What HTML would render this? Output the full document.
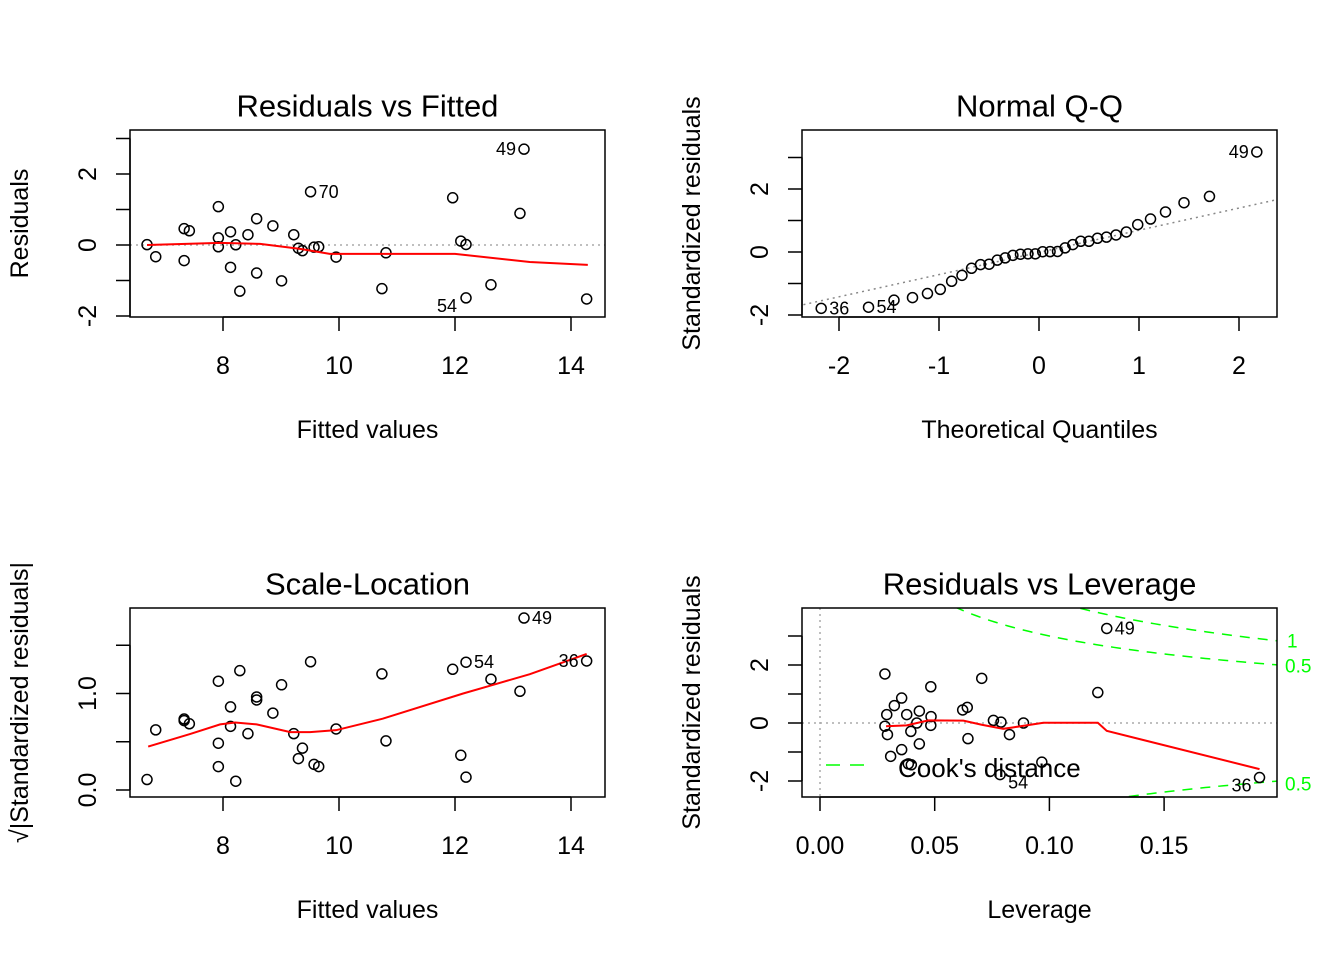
<!DOCTYPE html>
<html><head><meta charset="utf-8"><style>
html,body{margin:0;padding:0;background:#fff;width:1344px;height:960px;overflow:hidden;}
svg{display:block;font-family:"Liberation Sans",Arial,sans-serif;}
</style></head><body>
<svg id="chart" width="1344" height="960" viewBox="0 0 1344 960" xmlns="http://www.w3.org/2000/svg"></svg>
<script>
// ---- data ----
const fitted = [6.69,6.84,7.33,7.42,7.33,7.92,7.92,7.92,8.13,8.13,8.22,8.29,8.43,8.58,8.58,8.86,9.01,9.22,9.30,9.37,9.57,9.65,9.51,9.95,10.74,10.81,11.96,12.10,12.19,12.19,12.62,13.12,13.19,14.27];
const residuals = [0.01,-0.33,0.46,0.40,-0.44,1.08,0.20,-0.05,0.37,-0.63,0.007,-1.30,0.29,0.74,-0.79,0.54,-1.01,0.29,-0.09,-0.16,-0.06,-0.05,1.50,-0.34,-1.23,-0.22,1.33,0.11,0.015,-1.49,-1.12,0.89,2.70,-1.52];
const obsLabels = {22:"70",29:"54",32:"49",33:"36"};
const sigma = 0.85;
const rvfSmoothX = [6.69,7.95,8.64,9.33,9.84,11.05,12.0,13.29,14.29];
const rvfSmoothY = [0.0,0.06,0.03,-0.11,-0.25,-0.25,-0.25,-0.48,-0.56];
const slSmoothX = [6.71,7.43,7.95,8.21,8.58,9.16,9.50,9.95,10.76,12.14,12.60,13.29,14.27];
const slSmoothY = [0.45,0.58,0.68,0.70,0.68,0.60,0.60,0.62,0.74,1.00,1.08,1.20,1.41];
const leverage = [0.0283,0.0483,0.0705,0.0356,0.0324,0.0291,0.0378,0.0433,0.0484,0.0422,0.0483,0.0283,0.0294,0.0396,0.0622,0.0642,0.0756,0.0789,0.0887,0.0826,0.0645,0.0433,0.0356,0.0308,0.0385,0.0398,0.0785,0.0967,0.1211,0.125,0.1916];
const levStdRes = [1.69,1.25,1.54,0.86,0.60,0.29,0.29,0.41,0.22,0.0,-0.08,-0.11,-0.40,-0.29,0.45,0.54,0.09,0.03,0.0,-0.40,-0.54,-0.72,-0.92,-1.15,-1.41,-1.44,-1.78,-1.35,1.05,3.26,-1.88];
const levLabels = {26:"54",29:"49",30:"36"};
const levSmoothX = [0.0288,0.0378,0.0472,0.0625,0.0705,0.0799,0.0843,0.0974,0.1211,0.125,0.1916];
const levSmoothY = [-0.11,-0.08,0.09,0.08,-0.06,-0.20,-0.15,0.01,0.01,-0.27,-1.59];
const cookLevels = [0.5,1];
const nParams = 2;

// ---- helpers ----
const svg = document.getElementById('chart');
const NS = 'http://www.w3.org/2000/svg';
function mk(tag, attrs, parent){const e=document.createElementNS(NS,tag);for(const k in attrs)e.setAttribute(k,attrs[k]);(parent||svg).appendChild(e);return e;}
function txt(x,y,s,size,opts){opts=opts||{};const t=mk('text',{x:x,y:y,'font-size':size,fill:opts.fill||'#000','text-anchor':opts.anchor||'middle','dominant-baseline':'central'},opts.parent);if(opts.rot)t.setAttribute('transform','rotate(-90 '+x+' '+y+')');t.textContent=s;return t;}
function lin(d0,d1,p0,p1){return v=>p0+(v-d0)*(p1-p0)/(d1-d0);}
function qnorm(p){const a=[-39.69683028665376,220.9460984245205,-275.9285104469687,138.357751867269,-30.66479806614716,2.506628277459239],b=[-54.47609879822406,161.5858368580409,-155.6989798598866,66.80131188771438,-13.28068155288572],c=[-0.007784894002430293,-0.3223964580411365,-2.400758277161838,-2.549732539343734,4.374664141464968,2.938163982698783],d=[0.007784695709041462,0.3224671290700398,2.445134137142996,3.754408661907416];const pl=0.02425;let q,r;if(p<pl){q=Math.sqrt(-2*Math.log(p));return(((((c[0]*q+c[1])*q+c[2])*q+c[3])*q+c[4])*q+c[5])/((((d[0]*q+d[1])*q+d[2])*q+d[3])*q+1);}if(p>1-pl){q=Math.sqrt(-2*Math.log(1-p));return-(((((c[0]*q+c[1])*q+c[2])*q+c[3])*q+c[4])*q+c[5])/((((d[0]*q+d[1])*q+d[2])*q+d[3])*q+1);}q=p-0.5;r=q*q;return(((((a[0]*r+a[1])*r+a[2])*r+a[3])*r+a[4])*r+a[5])*q/(((((b[0]*r+b[1])*r+b[2])*r+b[3])*r+b[4])*r+1);}
function quant(arr,p){const s=[...arr].sort((a,b)=>a-b);const h=(s.length-1)*p;const lo=Math.floor(h);return s[lo]+(h-lo)*(s[Math.min(lo+1,s.length-1)]-s[lo]);}

function panel(cfg){
  const g=mk('g',{});
  
  
  const b=cfg.box;
  const cp=mk('clipPath',{id:cfg.name+'-clip'},g);mk('rect',{x:b.x,y:b.y,width:b.w,height:b.h},cp);
  const inner=mk('g',{'clip-path':'url(#'+cfg.name+'-clip)'},g);
  cfg.draw(inner,g);
  const frame=mk('rect',{x:b.x,y:b.y,width:b.w,height:b.h,fill:'none',stroke:'#000','stroke-width':1.5},g);
  
  
  const xa=mk('g',{},g);
  
  
  const xt=cfg.xticks.map(cfg.sx);
  mk('line',{x1:xt[0],x2:xt[xt.length-1],y1:b.y+b.h,y2:b.y+b.h,stroke:'#000','stroke-width':1.5},xa);
  cfg.xticks.forEach((v,i)=>{const x=cfg.sx(v);mk('line',{x1:x,x2:x,y1:b.y+b.h,y2:b.y+b.h+14,stroke:'#000','stroke-width':1.5},xa);const t=txt(x,b.y+b.h+49,cfg.xlabels[i],25,{parent:xa});});
  const ya=mk('g',{},g);
  
  
  const yt=cfg.yticks.map(cfg.sy);
  mk('line',{x1:b.x,x2:b.x,y1:yt[0],y2:yt[yt.length-1],stroke:'#000','stroke-width':1.5},ya);
  cfg.yticks.forEach((v,i)=>{const y=cfg.sy(v);mk('line',{x1:b.x-14,x2:b.x,y1:y,y2:y,stroke:'#000','stroke-width':1.5},ya);if(cfg.ylabels[i]){const t=txt(b.x-42,y,cfg.ylabels[i],25,{rot:true,parent:ya});}});
  const tt=txt(b.x+b.w/2,b.y-24,cfg.title,31,{parent:g});
  
  
  const xtl=txt(b.x+b.w/2,b.y+b.h+113,cfg.xtitle,25,{parent:g});
  
  
  const ytl=txt(b.x-110,b.y+b.h/2,cfg.ytitle,25,{rot:true,parent:g});
  
  
}
function pt(parent,x,y){const c=mk('circle',{cx:x,cy:y,r:5,fill:'none',stroke:'#000','stroke-width':1.5},parent);}
function pline(parent,xs,ys,sx,sy,attrs,name){const p=mk('polyline',Object.assign({points:xs.map((x,i)=>sx(x)+','+sy(ys[i])).join(' '),fill:'none'},attrs),parent);return p;}
function lbl(parent,x,y,s,anchor){const t=txt(x,y,s,18,{anchor:anchor,parent:parent});}

const stdRes = residuals.map(r=>r/sigma);

// Panel 1
{const sx=lin(8,14,223,571),sy=lin(0,2,245,174);
panel({name:'residuals-vs-fitted',box:{x:130,y:130,w:475,h:187},sx,sy,xticks:[8,10,12,14],xlabels:['8','10','12','14'],yticks:[-2,-1,0,1,2,3],ylabels:['-2','','0','','2',''],title:'Residuals vs Fitted',xtitle:'Fitted values',ytitle:'Residuals',
draw:(g,outer)=>{
  const h=mk('line',{x1:130,x2:605,y1:sy(0),y2:sy(0),stroke:'#aaa','stroke-width':1.5,'stroke-dasharray':'2,4'},g);
  fitted.forEach((f,i)=>pt(g,sx(f),sy(residuals[i])));
  pline(g,rvfSmoothX,rvfSmoothY,sx,sy,{stroke:'#f00','stroke-width':2},'smoother-line');
  for(const k in obsLabels){const x=sx(fitted[k]),y=sy(residuals[k]);if(residuals[k]>0){if(fitted[k]>12)lbl(outer,x-8,y,obsLabels[k],'end');else lbl(outer,x+8,y,obsLabels[k],'start');}else if(fitted[k]<13)lbl(outer,x-9,y+8,obsLabels[k],'end');}
}});}

// Panel 2
{const sx=lin(0,1,1039,1139),sy=lin(0,2,252,189);
const n=stdRes.length;const order=stdRes.map((v,i)=>i).sort((a,b)=>stdRes[a]-stdRes[b]);
const theo=order.map((_,r)=>qnorm((r+0.5)/n));
panel({name:'normal-qq',box:{x:802,y:130,w:475,h:187},sx,sy,xticks:[-2,-1,0,1,2],xlabels:['-2','-1','0','1','2'],yticks:[-2,-1,0,1,2,3],ylabels:['-2','','0','','2',''],title:'Normal Q-Q',xtitle:'Theoretical Quantiles',ytitle:'Standardized residuals',
draw:(g,outer)=>{
  const y1=quant(stdRes,0.25),y2=quant(stdRes,0.75),x1=qnorm(0.25),x2=qnorm(0.75);const sl=(y2-y1)/(x2-x1),ic=y1-sl*x1;
  const l=mk('line',{x1:sx(-3),x2:sx(3),y1:sy(ic-3*sl),y2:sy(ic+3*sl),stroke:'#888','stroke-width':1.5,'stroke-dasharray':'2,4'},g);
  order.forEach((idx,r)=>pt(g,sx(theo[r]),sy(stdRes[idx])));
  order.forEach((idx,r)=>{if(obsLabels[idx]&&obsLabels[idx]!=='70'){const x=sx(theo[r]),y=sy(stdRes[idx]);if(stdRes[idx]>0)lbl(outer,x-8,y,obsLabels[idx],'end');else lbl(outer,x+8,y,obsLabels[idx],'start');}});
}});}

// Panel 3
{const sx=lin(8,14,223,571),sy=lin(0,1,790,693.5);
const sl=residuals.map(r=>Math.sqrt(Math.abs(r)/sigma));
panel({name:'scale-location',box:{x:130,y:608,w:475,h:189},sx,sy,xticks:[8,10,12,14],xlabels:['8','10','12','14'],yticks:[0,0.5,1,1.5],ylabels:['0.0','','1.0',''],title:'Scale-Location',xtitle:'Fitted values',ytitle:'\u221A|Standardized residuals|',
draw:(g,outer)=>{
  fitted.forEach((f,i)=>pt(g,sx(f),sy(sl[i])));
  pline(g,slSmoothX,slSmoothY,sx,sy,{stroke:'#f00','stroke-width':2},'smoother-line');
  for(const k in obsLabels){if(obsLabels[k]==='70')continue;const x=sx(fitted[k]),y=sy(sl[k]);if(fitted[k]>14)lbl(outer,x-8,y,obsLabels[k],'end');else lbl(outer,x+8,y,obsLabels[k],'start');}
}});}

// Panel 4
{const sx=lin(0,0.05,820,934.7),sy=lin(0,2,723,665);
panel({name:'residuals-vs-leverage',box:{x:802,y:608,w:475,h:189},sx,sy,xticks:[0,0.05,0.1,0.15],xlabels:['0.00','0.05','0.10','0.15'],yticks:[-2,-1,0,1,2,3],ylabels:['-2','','0','','2',''],title:'Residuals vs Leverage',xtitle:'Leverage',ytitle:'Standardized residuals',
draw:(g,outer)=>{
  const v=mk('line',{x1:sx(0),x2:sx(0),y1:608,y2:797,stroke:'#aaa','stroke-width':1.5,'stroke-dasharray':'2,4'},g);
  const h=mk('line',{x1:802,x2:1277,y1:sy(0),y2:sy(0),stroke:'#aaa','stroke-width':1.5,'stroke-dasharray':'2,4'},g);
  cookLevels.forEach(c=>{[1,-1].forEach(sgn=>{const hs=[],ys=[];for(let hh=0.01;hh<=0.2001;hh+=0.002){hs.push(hh);ys.push(sgn*Math.sqrt(c*nParams*(1-hh)/hh));}pline(g,hs,ys,sx,sy,{stroke:'#0f0','stroke-width':1.5,'stroke-dasharray':'10,8'},'cooks-distance-contour');});});
  leverage.forEach((l,i)=>pt(g,sx(l),sy(levStdRes[i])));
  pline(g,levSmoothX,levSmoothY,sx,sy,{stroke:'#f00','stroke-width':2},'smoother-line');
  for(const k in levLabels){const x=sx(leverage[k]),y=sy(levStdRes[k]);const s=levLabels[k];if(s==='49')lbl(outer,x+8,y,s,'start');else if(s==='54')lbl(outer,x+8,y+8,s,'start');else lbl(outer,x-8,y+8,s,'end');}
  const cl=[['1',1287,642],['0.5',1285,667],['0.5',1285,785]];
  cl.forEach(c=>{const t=txt(c[1],c[2],c[0],19,{anchor:'start',fill:'#0f0',parent:outer});});
  const lg=mk('g',{},outer);
  mk('line',{x1:826,x2:870,y1:765,y2:765,stroke:'#0f0','stroke-width':1.5,'stroke-dasharray':'14,10'},lg);
  const lt=txt(898,768,"Cook's distance",26,{anchor:'start',parent:lg});
}});}
</script>
</body></html>
